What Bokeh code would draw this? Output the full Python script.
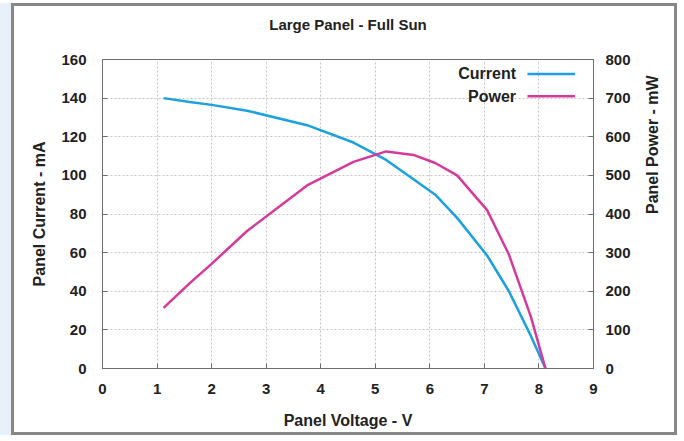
import math
from bokeh.plotting import figure
from bokeh.models import (Range1d, LinearAxis, SingleIntervalTicker, Label)
from bokeh.embed import file_html
from bokeh.resources import INLINE

# ---- data ----
voltage = [1.12, 1.6, 2.0, 2.65, 3.75, 4.6, 5.2, 5.7, 6.1, 6.5, 7.05, 7.45, 7.85, 8.12]
current_ma = [140, 138, 136.5, 133.5, 126, 117, 108, 98, 90, 78, 58.5, 40, 17, 0]
power_mw = [157, 221, 271, 356, 474, 535, 562, 553, 532, 500, 410, 295, 135, 0]

series_names = ["Current", "Power"]
series_colors = ["#1ba1e2", "#d6399c"]
title_text = "Large Panel - Full Sun"

x_ticks_interval = 1
y_ticks_interval = 20
y2_ticks_interval = 100

FONT = "Liberation Sans"
TXT = "#222222"
AX = "#6e6e6e"

p = figure(width=666, height=432, output_backend="svg", toolbar_location=None,
           x_range=Range1d(0, 9), y_range=Range1d(0, 160),
           min_border_left=88, min_border_right=87, min_border_top=53, min_border_bottom=70,
           title=title_text + "\n")
p.styles = {"border": "3px solid #878787", "margin-left": "11px", "margin-top": "3px",
            "box-shadow": "-14px 0 0 0 #e8f1f9"}
p.background_fill_color = "white"
p.border_fill_color = "white"
p.outline_line_color = AX
p.outline_line_width = 1

p.title.align = "center"
p.title.text_font = FONT
p.title.text_font_size = "15px"
p.title.text_font_style = "bold"
p.title.text_color = TXT
p.title.text_line_height = 1.3
p.title.standoff = 8

p.extra_y_ranges = {"power": Range1d(0, 800)}
right = LinearAxis(y_range_name="power")
p.add_layout(right, "right")

p.xaxis.ticker = SingleIntervalTicker(interval=x_ticks_interval)
p.yaxis[0].ticker = SingleIntervalTicker(interval=y_ticks_interval)
right.ticker = SingleIntervalTicker(interval=y2_ticks_interval)

p.xaxis.axis_label = "Panel Voltage - V"
p.yaxis[0].axis_label = "Panel Current - mA"
right.axis_label = "Panel Power - mW"

for ax in [p.xaxis[0], p.yaxis[0], right]:
    ax.axis_line_color = AX
    ax.major_tick_line_color = AX
    ax.major_tick_in = 5
    ax.major_tick_out = 0
    ax.minor_tick_line_color = None
    ax.major_label_text_font = FONT
    ax.major_label_text_font_size = "15px"
    ax.major_label_text_font_style = "bold"
    ax.major_label_text_color = TXT
    ax.axis_label_text_font = FONT
    ax.axis_label_text_font_size = "16px"
    ax.axis_label_text_font_style = "bold"
    ax.axis_label_text_color = TXT

p.xaxis.major_label_standoff = 11
p.xaxis.axis_label_standoff = 15
p.yaxis[0].major_label_standoff = 12
p.yaxis[0].axis_label_standoff = 10
right.major_label_standoff = 8
right.axis_label_standoff = 19
if hasattr(right, "axis_label_orientation"):
    right.axis_label_orientation = math.pi / 2

p.grid.grid_line_color = "#c4c4c4"
p.grid.grid_line_dash = "2 2"
p.grid.grid_line_width = 1

p.line(voltage, current_ma, line_color=series_colors[0], line_width=2.5)
p.line(voltage, power_mw, line_color=series_colors[1], line_width=2.5, y_range_name="power")

# ---- legend (label left of sample line) ----
leg_text_x = 7.58
leg_line_x = [7.79, 8.66]
leg_y = [152.5, 141.0]
for name, col, yy in zip(series_names, series_colors, leg_y):
    p.add_layout(Label(x=leg_text_x, y=yy, text=name, text_align="right",
                       text_baseline="middle", text_font=FONT, text_font_size="16px",
                       text_font_style="bold", text_color=TXT))
    p.line(leg_line_x, [yy, yy], line_color=col, line_width=2.5)

open("out.html", "w").write(file_html(p, INLINE))
